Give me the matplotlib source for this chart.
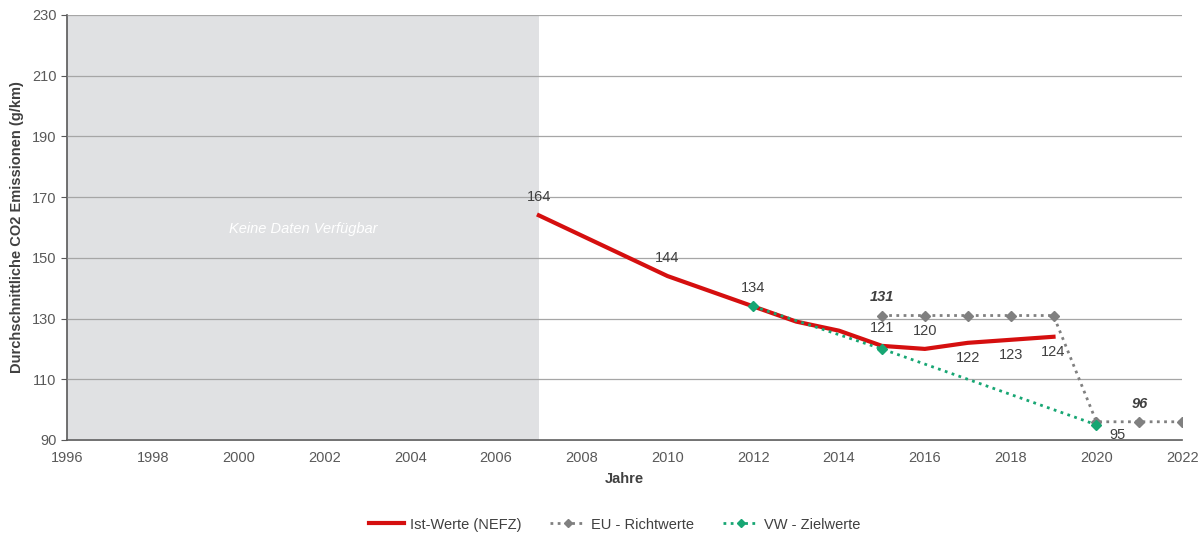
import matplotlib.pyplot as plt
from matplotlib.patches import Rectangle

plt.rcParams['font.family'] = ['Liberation Sans', 'DejaVu Sans']

# Ist-Werte (NEFZ)
ist_years = [2007, 2010, 2012, 2013, 2014, 2015, 2016, 2017, 2018, 2019]
ist_vals = [164, 144, 134, 129, 126, 121, 120, 122, 123, 124]
# EU - Richtwerte
eu_years = [2015, 2016, 2017, 2018, 2019, 2020, 2021, 2022]
eu_vals = [131, 131, 131, 131, 131, 96, 96, 96]
# VW - Zielwerte
vw_years = [2012, 2015, 2020]
vw_vals = [134, 120, 95]

ist_labels = {2007: 'above', 2010: 'above', 2012: 'above', 2015: 'above',
              2016: 'above', 2017: 'below', 2018: 'below', 2019: 'below'}

red = '#d50f0f'
grey = '#808080'
green = '#17a673'
txt = '#404040'
fs = 10.5

fig = plt.figure(figsize=(12.03, 5.35), dpi=100)
ax = fig.add_axes([0.0557, 0.1776, 0.927, 0.7944])

ax.set_xlim(1996, 2022)
ax.set_ylim(90, 230)
ax.set_yticks(range(90, 231, 20))
ax.set_xticks(range(1996, 2023, 2))

ax.add_patch(Rectangle((1996, 90), 11, 140, facecolor='#e0e1e3', edgecolor='none', zorder=0))
ax.text(2001.5, 159.5, 'Keine Daten Verfügbar', color='white', style='italic',
        fontsize=fs, ha='center', va='center', zorder=1)

ax.yaxis.grid(True, color='#a6a6a6', lw=0.9, zorder=1)
ax.set_axisbelow(False)

ax.plot(ist_years, ist_vals, color=red, lw=3, zorder=3, label='Ist-Werte (NEFZ)')
ax.plot(eu_years, eu_vals, color=grey, lw=2, ls=(0, (1, 1.6)), marker='D', ms=5,
        zorder=4, label='EU - Richtwerte')
ax.plot(vw_years, vw_vals, color=green, lw=2, ls=(0, (1, 1.6)), marker='D', ms=5,
        zorder=5, label='VW - Zielwerte')

for y, v in zip(ist_years, ist_vals):
    if y not in ist_labels:
        continue
    off = 8 if ist_labels[y] == 'above' else -6
    ax.annotate(str(v), (y, v), xytext=(0, off), textcoords='offset points',
                ha='center', va='bottom' if off > 0 else 'top',
                fontsize=fs, color=txt, zorder=6)

ax.annotate(str(eu_vals[0]), (eu_years[0], eu_vals[0]), xytext=(0, 8),
            textcoords='offset points', ha='center', va='bottom', fontsize=fs,
            fontweight='bold', style='italic', color=txt)
ax.annotate(str(eu_vals[-2]), (eu_years[-2], eu_vals[-2]), xytext=(0, 8),
            textcoords='offset points', ha='center', va='bottom', fontsize=fs,
            fontweight='bold', style='italic', color=txt)
ax.annotate(str(vw_vals[-1]), (vw_years[-1], vw_vals[-1]), xytext=(9, -2),
            textcoords='offset points', ha='left', va='top', fontsize=fs,
            color=txt)

for side in ['top', 'right']:
    ax.spines[side].set_visible(False)
for side in ['left', 'bottom']:
    ax.spines[side].set_color('#595959')
    ax.spines[side].set_linewidth(1.2)

ax.tick_params(axis='y', length=4, color='#595959', labelsize=fs, labelcolor='#595959')
ax.tick_params(axis='x', length=0, pad=8, labelsize=fs, labelcolor='#595959')

ax.set_xlabel('Jahre', fontsize=fs, fontweight='bold', color=txt, labelpad=5)
ax.set_ylabel('Durchschnittliche CO2 Emissionen (g/km)', fontsize=fs,
              fontweight='bold', color=txt, labelpad=6)

fig.legend(loc='lower center', ncol=3, frameon=False, fontsize=fs,
           bbox_to_anchor=(0.511, -0.018), handlelength=2.4, columnspacing=2.0,
           labelcolor=txt, handletextpad=0.4, markerscale=0.8)

fig.savefig('out.png', dpi=100)
